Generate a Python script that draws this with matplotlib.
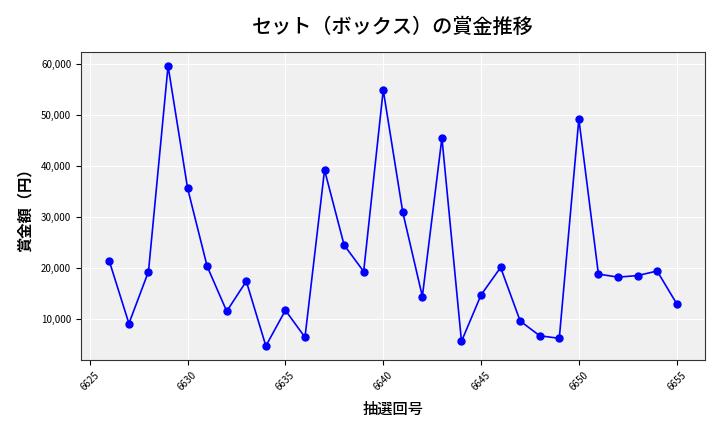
import matplotlib
matplotlib.use('Agg')
import matplotlib.pyplot as plt
from matplotlib.ticker import FuncFormatter

plt.rcParams['font.family'] = ['Noto Sans CJK JP', 'DejaVu Sans']

# 抽選回号と賞金額（セット・ボックス）
draws = list(range(6626, 6656))
prizes = [21300, 9100, 19300, 59600, 35600, 20300, 11500, 17400, 4700, 11700,
          6400, 39200, 24500, 19300, 54900, 30900, 14400, 45500, 5600, 14700,
          20100, 9600, 6700, 6200, 49200, 18800, 18200, 18500, 19400, 13000]

fig = plt.figure(figsize=(7.2, 4.32), dpi=100)
ax = fig.add_axes([0.1125, 0.1667, 0.8667, 0.713])
ax.set_facecolor('#F0F0F0')

ax.plot(draws, prizes, color='blue', marker='o', markersize=5, linewidth=1.2)

ax.set_title("セット（ボックス）の賞金推移", fontsize=14.5, weight='medium', pad=14)
ax.set_xlabel("抽選回号", fontsize=11, weight='medium', labelpad=6)
ax.set_ylabel("賞金額（円）", fontsize=11, weight='bold', labelpad=6)

ax.yaxis.set_major_formatter(FuncFormatter(lambda v, p: f"{int(v):,}"))
ax.tick_params(axis='both', labelsize=7)
plt.setp(ax.get_xticklabels(), rotation=45)

ax.grid(True, color='white', linewidth=0.8)
ax.set_axisbelow(True)
for s in ax.spines.values():
    s.set_color('#333333')

fig.savefig('out.png', dpi=100)
